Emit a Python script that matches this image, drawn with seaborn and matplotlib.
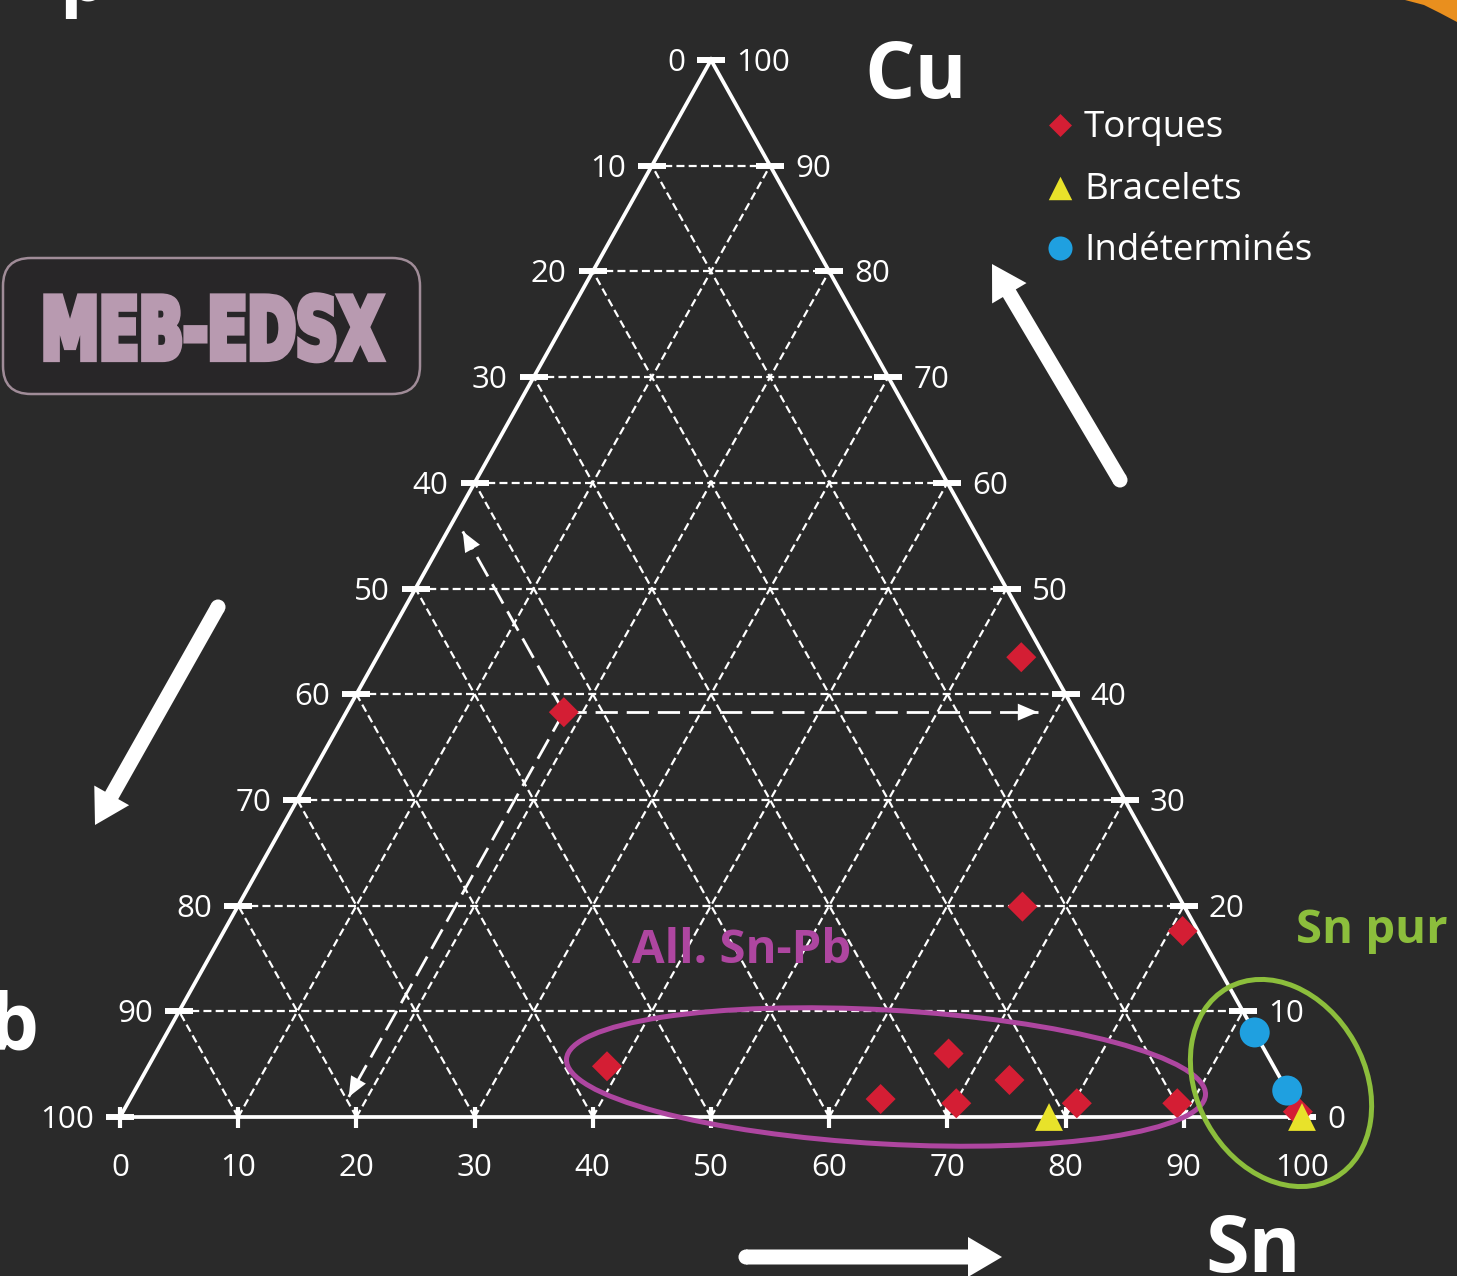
import matplotlib
matplotlib.use("Agg")
import numpy as np
import pandas as pd
import seaborn as sns
import matplotlib.pyplot as plt
from matplotlib.patches import Ellipse, FancyBboxPatch, FancyArrow, Polygon, Circle
from matplotlib.patheffects import AbstractPathEffect
from matplotlib.transforms import Affine2D

# ---------------- data (wt %) ----------------
categories = ["Torques", "Bracelets", "Indéterminés"]

torques_sn = [18.4, 54.5, 66.4, 81.1, 38.8, 67.1, 73.5, 63.5, 70.1, 80.3, 88.8, 99.4]
torques_cu = [38.3, 43.5, 19.9, 17.6, 4.8, 6.0, 3.5, 1.7, 1.3, 1.3, 1.3, 0.5]
torques_pb = [43.3, 2.0, 13.7, 1.3, 56.4, 26.9, 23.0, 34.8, 28.6, 18.4, 9.9, 0.1]

bracelets_sn = [78.6, 100.0]
bracelets_cu = [0.0, 0.0]
bracelets_pb = [21.4, 0.0]

indet_sn = [92.0, 97.5]
indet_cu = [8.0, 2.5]
indet_pb = [0.0, 0.0]

tick_values = list(range(0, 101, 10))

# ---------------- style ----------------
W, H, DPI = 1457, 1276, 100
BG = "#2a2a2a"
palette = {"Torques": "#d41e34", "Bracelets": "#e8e22a", "Indéterminés": "#1fa0e0"}
markers = {"Torques": "D", "Bracelets": "^", "Indéterminés": "o"}
sizes = {"Torques": 234, "Bracelets": 400, "Indéterminés": 466}
legend_sizes = {"Torques": 137, "Bracelets": 285, "Indéterminés": 300}
PURPLE = "#ae46a0"
GREEN = "#8cbe3c"

sns.set_theme(style="dark", rc={"axes.facecolor": BG, "figure.facecolor": BG})
plt.rcParams["font.family"] = ["Open Sans", "DejaVu Sans"]


class Stretched(AbstractPathEffect):
    """Draw glyphs stretched vertically and emboldened (poster-style heading)."""

    def __init__(self, sx=1.0, sy=1.0, stroke=0.0):
        super().__init__()
        self._sx = sx
        self._sy = sy
        self._stroke = stroke

    def draw_path(self, renderer, gc, tpath, affine, rgbFace=None):
        aff = Affine2D().scale(self._sx, self._sy) + affine
        gc0 = renderer.new_gc()
        gc0.copy_properties(gc)
        if self._stroke > 0 and rgbFace is not None:
            gc0.set_linewidth(self._stroke)
            gc0.set_foreground(rgbFace, isRGBA=True)
            gc0.set_joinstyle("miter")
        renderer.draw_path(gc0, tpath, aff, rgbFace)
        gc0.restore()


# ---------------- figure / ternary axes ----------------
fig = plt.figure(figsize=(W / DPI, H / DPI), dpi=DPI, facecolor=BG)
ax = fig.add_axes([0, 0, 1, 1])
X0, XS = 120.0, 11.82   # pixel of the Sn=0 corner, pixels per % along Sn
Y0, YS = 1117.0, 10.57  # pixel of the base line, pixels per % of Cu
ax.set_xlim(-X0 / XS, (W - X0) / XS)
ax.set_ylim((Y0 - H) / YS, Y0 / YS)
ax.set_axis_off()
dxp, dyp = 1.0 / XS, 1.0 / YS


def tx(sn, cu):
    return np.asarray(sn, float) + np.asarray(cu, float) / 2.0


# dashed grid
gkw = dict(color="white", lw=1.6, ls=(0, (3.6, 1.9)), zorder=1)
for k in tick_values[1:-1]:
    ax.plot([tx(0, k), tx(100 - k, k)], [k, k], **gkw)
    ax.plot([tx(k, 0), tx(k, 100 - k)], [0, 100 - k], **gkw)
    ax.plot([tx(100 - k, 0), tx(0, 100 - k)], [0, 100 - k], **gkw)

# outline
ax.plot([tx(0, 0), tx(100, 0), tx(0, 100), tx(0, 0)], [0, 0, 100, 0],
        color="white", lw=2.7, solid_joinstyle="miter", zorder=2)

# ticks and labels
for v in tick_values:
    xl, xr = tx(0, v), tx(100 - v, v)
    for xe in (xl, xr):
        ax.plot([xe - 14 * dxp, xe + 14 * dxp], [v, v], color="white", lw=4.3,
                solid_capstyle="butt", zorder=3)
    ax.plot([v, v], [-11 * dyp, 10 * dyp], color="white", lw=3.0,
            solid_capstyle="butt", zorder=3)
    ax.text(xl - 26 * dxp, v - 11 * dyp, f"{100 - v}", ha="right", va="baseline",
            fontsize=22.5, color="white", zorder=3)
    ax.text(xr + 25 * dxp, v - 11 * dyp, f"{v}", ha="left", va="baseline",
            fontsize=22.5, color="white", zorder=3)
    ax.text(v, -59 * dyp, f"{v}", ha="center", va="baseline",
            fontsize=22.5, color="white", zorder=3)

# reading guides for the first torque
g_sn, g_cu, g_pb = torques_sn[0], torques_cu[0], torques_pb[0]
gx, gy = tx(g_sn, g_cu), g_cu
guide_ends = [(100 - g_cu - 3.2, g_cu),          # towards Cu axis
              (1.3, 100 - g_pb - 1.3),            # towards Pb axis
              (g_sn, 1.9)]                        # towards Sn axis
for s, c in guide_ends:
    ex, ey = tx(s, c), c
    ax.plot([gx, ex], [gy, ey], color="white", lw=2.0, ls=(0, (8, 3.2)), zorder=4)
    ax.annotate("", xy=(ex, ey), xytext=(ex - 0.2 * (ex - gx), ey - 0.2 * (ey - gy)),
                arrowprops=dict(arrowstyle="-|>,head_length=0.8,head_width=0.34",
                                mutation_scale=18, color="white", lw=0,
                                shrinkA=0, shrinkB=0), zorder=4)

# data points
frames = []
for cat, sn, cu, pb in [("Torques", torques_sn, torques_cu, torques_pb),
                        ("Bracelets", bracelets_sn, bracelets_cu, bracelets_pb),
                        ("Indéterminés", indet_sn, indet_cu, indet_pb)]:
    frames.append(pd.DataFrame({"Sn": sn, "Cu": cu, "Pb": pb, "type": cat}))
df = pd.concat(frames, ignore_index=True)
df["x"] = tx(df["Sn"], df["Cu"])
df["y"] = df["Cu"]
sns.scatterplot(data=df, x="x", y="y", hue="type", style="type", size="type",
                hue_order=categories, style_order=categories, size_order=categories,
                palette=palette, markers=markers, sizes=sizes, linewidth=0,
                legend=False, ax=ax, zorder=5)

# ---------------- decorations (pixel coordinates) ----------------
deco = fig.add_axes([0, 0, 1, 1])
deco.set_xlim(0, W)
deco.set_ylim(H, 0)
deco.set_axis_off()

# orange corner
deco.add_patch(Polygon([(1405, 0), (1457, 0), (1457, 22), (1440, 13), (1424, 5)],
                       closed=True, facecolor="#e98f1e", edgecolor="none"))

# legend
for cat, ym, yb in zip(categories, [125, 188, 248], [137, 199, 260]):
    deco.scatter([1060], [ym], marker=markers[cat], s=legend_sizes[cat],
                 color=palette[cat], linewidth=0, zorder=6)
    deco.text(1084, yb, cat, fontsize=26.5, color="white", ha="left", va="baseline")

# axis names
deco.text(864, 98, "Cu", fontsize=57, fontweight="bold", color="white",
          ha="left", va="baseline")
deco.text(1205, 1272, "Sn", fontsize=57, fontweight="bold", color="white",
          ha="left", va="baseline")
deco.text(39, 1050, "Pb", fontsize=56, fontweight="bold", color="white",
          ha="right", va="baseline")
deco.text(59, 1, "p", fontsize=54, fontweight="bold", color="white",
          ha="left", va="baseline")

# groups
deco.text(632, 963, "All. Sn-Pb", fontsize=34, fontweight="bold", color=PURPLE,
          ha="left", va="baseline")
deco.add_patch(Ellipse((886, 1077), 640, 134, angle=3.2, fill=False,
                       edgecolor=PURPLE, lw=3.6, zorder=7))
deco.text(1296, 943, "Sn pur", fontsize=34, fontweight="bold", color=GREEN,
          ha="left", va="baseline")
deco.add_patch(Ellipse((1281, 1083), 218, 168, angle=60.7, fill=False,
                       edgecolor=GREEN, lw=3.6, zorder=7))

# MEB-EDSX badge
deco.add_patch(FancyBboxPatch((3, 258), 417, 136,
                              boxstyle="round,pad=0,rounding_size=28",
                              facecolor="#282628", edgecolor="#a08c98", lw=1.8))
deco.text(41, 359, "MEB-EDSX", fontsize=42, fontweight="bold", color="#b89ab0",
          family="DejaVu Sans", ha="left", va="baseline",
          path_effects=[Stretched(sx=1.0, sy=1.47, stroke=4.5)])

# big direction arrows
for (x1, y1), (x2, y2) in [((1120, 480), (992, 264)),
                           ((218, 607), (95, 825)),
                           ((746, 1257), (1002, 1257))]:
    deco.add_patch(FancyArrow(x1, y1, x2 - x1, y2 - y1, width=15, head_width=40,
                              head_length=34, length_includes_head=True,
                              facecolor="white", edgecolor="none", zorder=6))
    deco.add_patch(Circle((x1, y1), 7.5, facecolor="white", edgecolor="none", zorder=6))

fig.savefig("out.png", dpi=DPI, facecolor=BG)
